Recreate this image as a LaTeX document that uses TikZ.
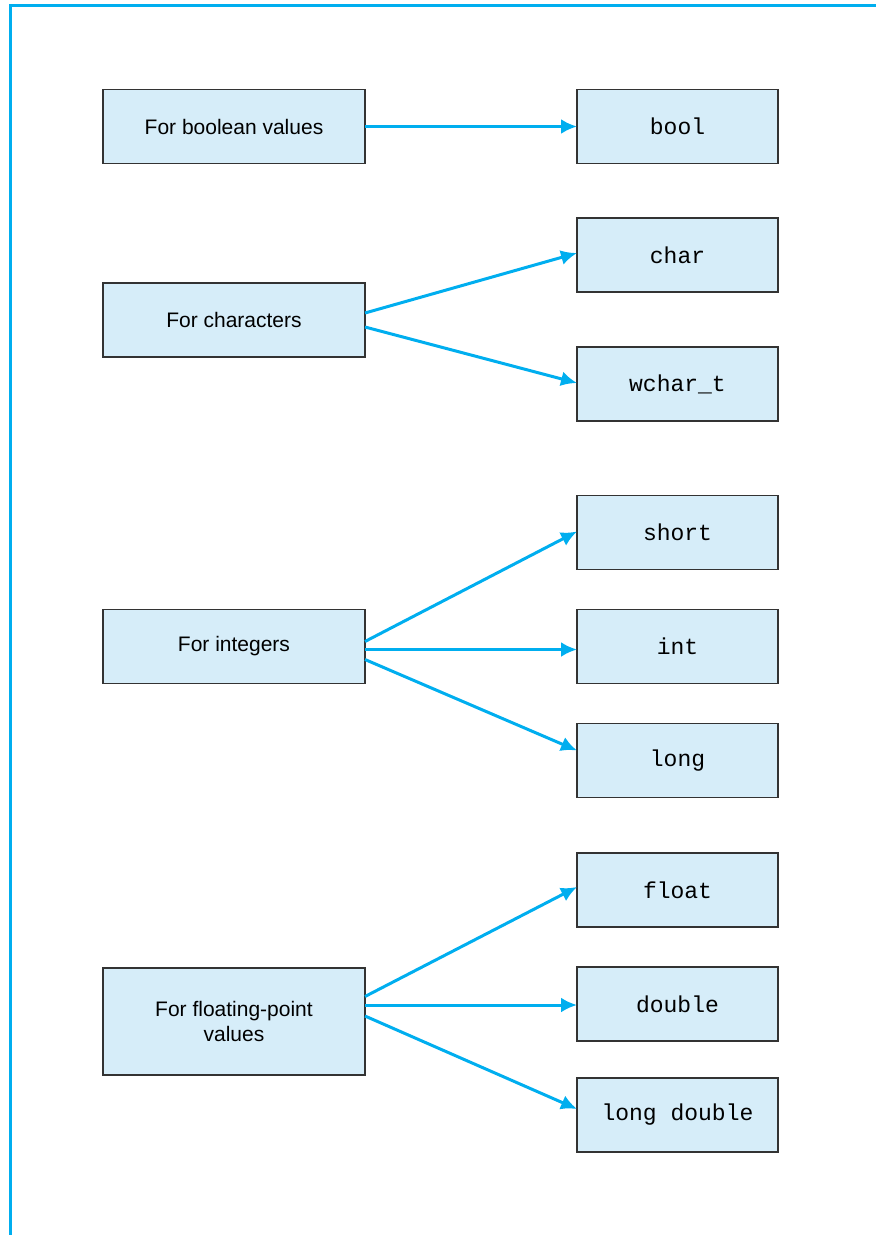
\documentclass[tikz,border=0pt]{standalone}
\usepackage{fontspec}
\setsansfont{Liberation Sans}
\setmonofont{Liberation Mono}
\usetikzlibrary{arrows.meta}
\usetikzlibrary{positioning}

\definecolor{frameCyan}{RGB}{0,174,239}
\definecolor{boxFill}{RGB}{214,237,249}
\definecolor{boxLine}{RGB}{51,51,51}

\begin{document}
\begin{tikzpicture}
      [x=1pt,y=-1pt,
       purposeBox/.style={rectangle,draw=boxLine,line width=1.2pt,fill=boxFill,minimum width=262pt,minimum height=74pt,inner sep=0pt,outer sep=0pt,align=center,font=\sffamily\fontsize{21}{25}\selectfont},
       typeBox/.style={rectangle,draw=boxLine,line width=1.2pt,fill=boxFill,minimum width=201pt,minimum height=74pt,inner sep=0pt,outer sep=0pt,font=\ttfamily\fontsize{23}{27}\selectfont},
       typeArrow/.style={draw=frameCyan,line width=3pt,-{Latex[length=16pt,width=15pt]}}]
      \useasboundingbox (0,0) rectangle (876,1235);
      \draw[frameCyan,line width=3pt] (10,1235) -- (10,5) -- (876,5);
      % left column
      \node[purposeBox] (boolean) at (234,126.5) {For boolean values};
      \node[purposeBox] (chars) at (234,320) {For characters};
      \node[purposeBox] (integers) at (234,646.5) {For integers};
      \node[purposeBox,minimum height=107pt] (floating) at (234,1021.5) {For floating-point\\values};
      % right column
      \node[typeBox] (bool) [right=212pt of boolean] {bool};
      \node[typeBox] (char) at (677.5,255) {char};
      \node[typeBox] (wchar) at (677.5,384) {wchar\_t};
      \node[typeBox] (int) [right=212pt of integers] {int};
      \node[typeBox] (short) [above=40pt of int] {short};
      \node[typeBox] (long) [below=40pt of int] {long};
      \node[typeBox] (float) at (677.5,890) {float};
      \node[typeBox] (double) at (677.5,1004) {double};
      \node[typeBox] (longdouble) at (677.5,1115) {long double};
      % connectors
      \draw[typeArrow] (boolean.east) -- (bool.west);
      \draw[typeArrow] ([yshift=7pt]chars.east) -- ([yshift=2pt]char.west);
      \draw[typeArrow] ([yshift=-7pt]chars.east) -- ([yshift=1pt]wchar.west);
      \draw[typeArrow] ([yshift=5pt]integers.east) -- ([yshift=1pt]short.west);
      \draw[typeArrow] ([yshift=-3pt]integers.east) -- ([yshift=-3pt]int.west);
      \draw[typeArrow] ([yshift=-13pt]integers.east) -- ([yshift=10pt]long.west);
      \draw[typeArrow] ([yshift=25pt]floating.east) -- ([yshift=3pt]float.west);
      \draw[typeArrow] ([yshift=16.5pt]floating.east) -- ([yshift=-1pt]double.west);
      \draw[typeArrow] ([yshift=5.5pt]floating.east) -- ([yshift=6pt]longdouble.west);
\end{tikzpicture}
\end{document}
